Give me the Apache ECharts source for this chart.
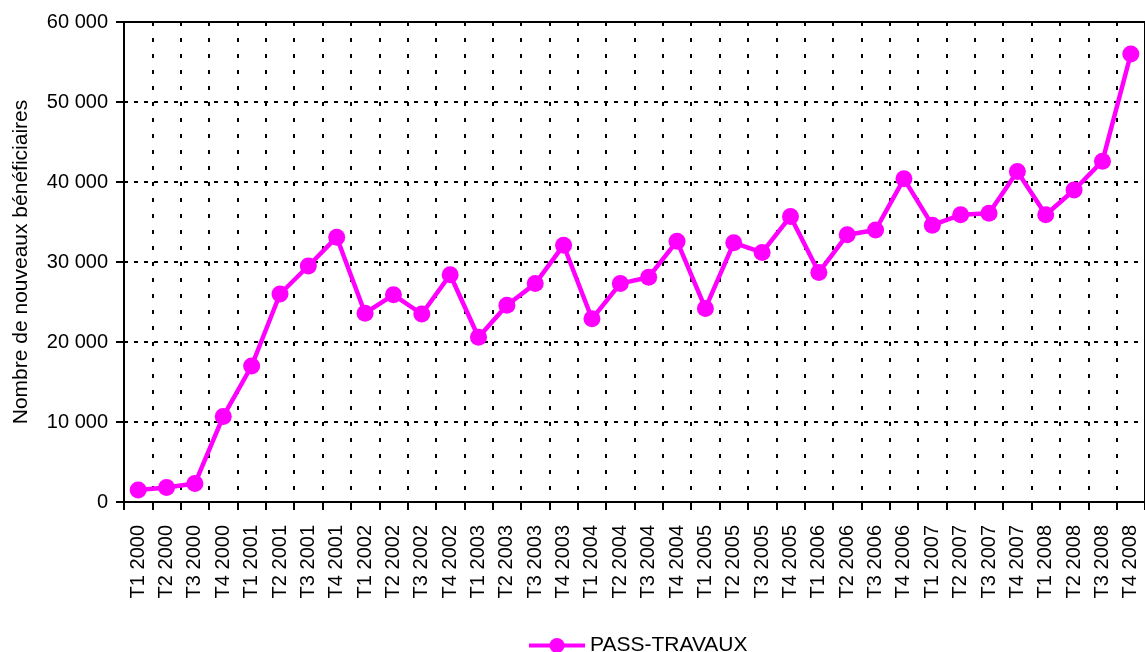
<!DOCTYPE html>
<html>
<head>
<meta charset="utf-8">
<title>PASS-TRAVAUX</title>
<script src="https://cdn.jsdelivr.net/npm/echarts@6/dist/echarts.min.js"></script>
<style>
  html, body { margin: 0; padding: 0; background: #fff; }
  #chart { width: 1145px; height: 652px; }
</style>
</head>
<body>
<div id="chart"></div>
<script>
// trimestres
var categories = [
  'T1 2000', 'T2 2000', 'T3 2000', 'T4 2000',
  'T1 2001', 'T2 2001', 'T3 2001', 'T4 2001',
  'T1 2002', 'T2 2002', 'T3 2002', 'T4 2002',
  'T1 2003', 'T2 2003', 'T3 2003', 'T4 2003',
  'T1 2004', 'T2 2004', 'T3 2004', 'T4 2004',
  'T1 2005', 'T2 2005', 'T3 2005', 'T4 2005',
  'T1 2006', 'T2 2006', 'T3 2006', 'T4 2006',
  'T1 2007', 'T2 2007', 'T3 2007', 'T4 2007',
  'T1 2008', 'T2 2008', 'T3 2008', 'T4 2008'
];
// nouveaux beneficiaires par trimestre
var passTravaux = [
  1500, 1800, 2300, 10700,
  17000, 26000, 29500, 33100,
  23600, 25900, 23500, 28400,
  20600, 24600, 27300, 32100,
  22900, 27300, 28100, 32600,
  24200, 32400, 31200, 35700,
  28700, 33400, 34000, 40400,
  34600, 35900, 36100, 41300,
  35900, 39000, 42600, 56000
];
var yTicks = { min: 0, max: 60000, step: 10000 };

var fontName = 'Liberation Sans, Arial, sans-serif';

function fmtNombre(v) {
  // separateur de milliers = espace
  return String(v).replace(/\B(?=(\d{3})+(?!\d))/g, ' ');
}

var myChart = echarts.init(document.getElementById('chart'));

var option = {
  animation: false,
  textStyle: { fontFamily: fontName },
  grid: {
    left: 124, right: -1, top: 22, bottom: 150,
    show: true, borderColor: '#000', borderWidth: 2,
    backgroundColor: 'transparent'
  },
  legend: {
    left: 522,
    top: 630,
    itemWidth: 56,
    itemHeight: 19,
    itemGap: 10,
    lineStyle: { width: 4 },
    textStyle: { fontSize: 21, color: '#000', fontFamily: fontName },
    data: ['PASS-TRAVAUX']
  },
  xAxis: {
    type: 'category',
    data: categories,
    boundaryGap: true,
    axisLine: { lineStyle: { color: '#000', width: 2 } },
    axisTick: { show: true, interval: 0, length: 8, lineStyle: { color: '#000', width: 2 } },
    axisLabel: {
      interval: 0, rotate: 90, margin: 23,
      fontSize: 20, color: '#000', fontFamily: fontName
    },
    splitLine: {
      show: true, interval: 0,
      lineStyle: { color: '#000', width: 2, type: [4, 12] }
    }
  },
  yAxis: {
    type: 'value',
    min: yTicks.min, max: yTicks.max, interval: yTicks.step,
    name: 'Nombre de nouveaux bénéficiaires',
    nameLocation: 'middle',
    nameGap: 92,
    nameTextStyle: { fontSize: 21, color: '#000', fontFamily: fontName },
    axisLine: { show: true, lineStyle: { color: '#000', width: 2 } },
    axisTick: { show: true, length: 8, lineStyle: { color: '#000', width: 2 } },
    axisLabel: {
      margin: 16, fontSize: 20, color: '#000', fontFamily: fontName,
      formatter: fmtNombre
    },
    splitLine: {
      show: true,
      lineStyle: { color: '#000', width: 2, type: [4, 6] }
    }
  },
  series: [{
    name: 'PASS-TRAVAUX',
    type: 'line',
    data: passTravaux,
    symbol: 'circle',
    symbolSize: 17,
    color: '#FF00FF',
    lineStyle: { color: '#FF00FF', width: 4.5 },
    itemStyle: { color: '#FF00FF' }
  }]
};

myChart.setOption(option);
</script>
</body>
</html>
